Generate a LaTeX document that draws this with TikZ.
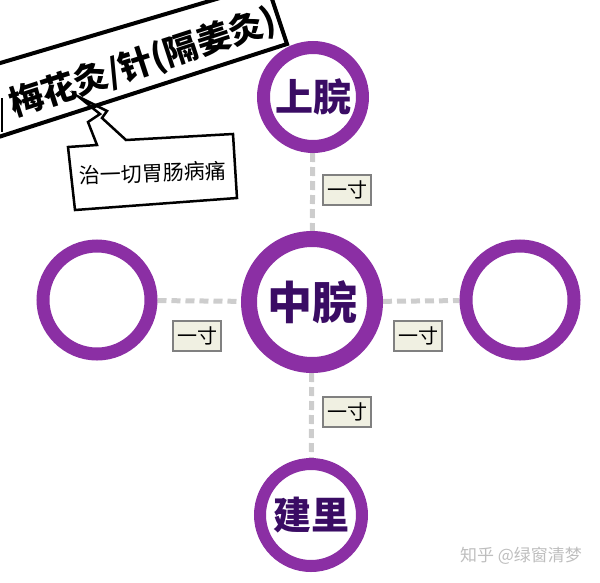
\documentclass[tikz,border=0pt]{standalone}
\usepackage{fontspec}
\newfontfamily\cjk{Noto Sans CJK SC}
\pgfdeclarelayer{bg}
\pgfsetlayers{bg,main}
\definecolor{ringpurple}{RGB}{139,47,164}
\definecolor{txtpurple}{RGB}{58,12,100}
\definecolor{dashgray}{RGB}{205,205,205}
\definecolor{boxfill}{RGB}{240,240,226}
\definecolor{boxgray}{RGB}{128,128,128}
\definecolor{wmgray}{RGB}{190,190,190}
\tikzset{
  ring/.style={circle, draw=ringpurple, fill=white, inner sep=0pt, text=txtpurple},
  cunbox/.style={draw=boxgray, fill=boxfill, line width=1.2pt, minimum width=48pt, minimum height=30pt, inner sep=0pt, font=\cjk\fontsize{20}{20}\selectfont},
  dashline/.style={draw=dashgray, line width=5pt, dash pattern=on 9pt off 5pt},
  bigtxt/.style={font=\cjk\bfseries\fontsize{#1}{#1}\selectfont}
}
\begin{document}
\begin{tikzpicture}[x=1pt,y=-1pt]
\useasboundingbox (0,0) rectangle (600,582);
\clip (0,0) rectangle (600,582);
% acupoint rings
\node[ring, minimum size=99pt, line width=13pt, bigtxt=38] (up) at (313,97) {上脘};
\node[ring, minimum size=126pt, line width=16pt, bigtxt=45] (mid) at (312,302) {中脘};
\node[ring, minimum size=108pt, line width=13pt] (left) at (97,300) {};
\node[ring, minimum size=108pt, line width=13pt] (right) at (520,300) {};
\node[ring, minimum size=102pt, line width=12pt, bigtxt=38] (low) at (311,515) {建里};
% dashed connectors
\begin{pgfonlayer}{bg}
\draw[dashline] (up) -- (mid);
\draw[dashline] (left) -- (mid);
\draw[dashline] (mid) -- (right);
\draw[dashline] (mid) -- (low);
\end{pgfonlayer}
% distance labels
\node[cunbox] (c1) at (347,190) {一寸};
\node[cunbox] (c2) at (197,336) {一寸};
\node[cunbox] (c3) at (418,336) {一寸};
\node[cunbox] (c4) at (347,412) {一寸};
% speech bubble
\draw[line width=2.5pt, fill=white, line join=miter]
  (68,147) -- (97,145) -- (88,122) -- (100,114) -- (79,97) -- (107,111) -- (102,118) -- (126,140)
  -- (233,134) -- (237,198) -- (75,210) -- cycle;
\node[font=\cjk\fontsize{21}{21}\selectfont, rotate=2] (note) at (153,173) {治一切胃肠病痛};
% banner
\draw[line width=4pt, line join=miter] (-20,143) -- (287,44) -- (267,-16) -- (-20,69);
\draw[line width=2pt] (2,98) -- (2,132);
\node[font=\cjk\bfseries\fontsize{34}{34}\selectfont, rotate=18] (title) at (143,63) {梅花灸/针(隔姜灸)};
% watermark
\node[font=\cjk\fontsize{17}{17}\selectfont, text=wmgray] (wm) at (521,556) {知乎 @绿窗清梦};
\end{tikzpicture}
\end{document}
